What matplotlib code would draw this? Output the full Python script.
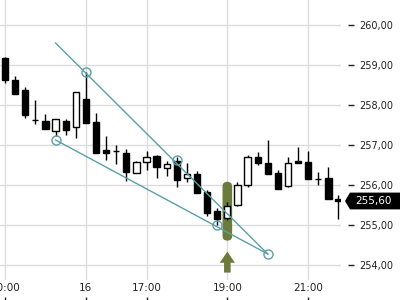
import matplotlib
matplotlib.use("Agg")
import matplotlib.pyplot as plt
from matplotlib.patches import Rectangle, FancyBboxPatch, Polygon
from matplotlib import transforms

# ── candle data (15 min bars) ──────────────────────────────────────────
opens = [259.18, 258.63, 258.38, 257.62, 257.60, 257.36, 257.60, 257.44, 258.15, 257.57,
         256.88, 256.84, 256.79, 256.29, 256.57, 256.73, 256.42, 256.60, 256.17, 256.28,
         255.83, 255.35, 255.17, 255.49, 256.00, 256.69, 256.54, 256.29, 255.98, 256.60,
         256.57, 256.15, 256.17, 255.65]
highs = [259.20, 258.73, 258.44, 258.13, 257.78, 257.65, 257.65, 258.32, 258.83, 257.79,
         257.23, 257.00, 256.89, 256.60, 256.85, 256.75, 256.60, 256.70, 256.54, 256.35,
         255.88, 255.42, 255.58, 256.07, 256.75, 256.83, 257.13, 256.38, 256.71, 256.96,
         256.85, 256.33, 256.44, 255.75]
lows = [258.55, 258.27, 257.68, 257.52, 257.39, 257.23, 257.25, 257.17, 257.54, 256.79,
        256.63, 256.53, 256.11, 256.29, 256.38, 256.17, 256.22, 255.96, 256.08, 255.81,
        255.23, 255.00, 255.13, 255.47, 255.94, 256.50, 256.27, 255.90, 255.96, 256.56,
        256.14, 256.00, 255.64, 255.14]
closes = [258.63, 258.28, 257.75, 257.62, 257.39, 257.65, 257.38, 258.32, 257.54, 256.81,
          256.79, 256.84, 256.33, 256.58, 256.71, 256.44, 256.52, 256.13, 256.28, 255.81,
          255.29, 255.14, 255.48, 256.01, 256.69, 256.54, 256.27, 255.90, 256.54, 256.56,
          256.14, 256.15, 255.64, 255.60]

tick_pos = [0, 8, 14, 22, 30]
tick_labels = ["20:00", "16", "17:00", "19:00", "21:00"]
y_ticks = [254, 255, 256, 257, 258, 259, 260]

# trend lines (bar index, price)
upper_line = [(5, 259.55), (26, 254.275)]
lower_line = [(5, 257.125), (26, 254.275)]
anchor_pts = [(8, 258.82), (17, 256.62), (5, 257.125), (21, 255.0), (26, 254.275)]

signal_bar = 22

TEAL = "#5c9fa6"
OLIVE = "#6b7b3b"

fig = plt.figure(figsize=(4, 3), dpi=100)
ax = fig.add_axes([0, 0.0667, 0.8525, 0.9333])

# highlight + arrow under the signal bar
hi_top = highs[signal_bar] + 0.5
hi_bot = lows[signal_bar] - 0.52
hw = 0.95
ax.add_patch(FancyBboxPatch((signal_bar - hw / 2, hi_bot), hw, hi_top - hi_bot,
                            boxstyle="round,pad=0,rounding_size=0.46",
                            mutation_aspect=0.255,
                            fc=OLIVE, ec="none", zorder=1))
ax.arrow(signal_bar, hi_bot - 0.8, 0, 0.525, width=0.65, head_width=1.5,
         head_length=0.28, length_includes_head=True, fc=OLIVE, ec="none", zorder=1)

# candles
w = 0.62
for i, (o, h, l, c) in enumerate(zip(opens, highs, lows, closes)):
    ax.plot([i, i], [l, h], color="black", lw=1, zorder=2, solid_capstyle="butt")
    bottom = min(o, c)
    height = max(abs(c - o), 0.001)
    face = "black" if c < o else "white"
    ax.add_patch(Rectangle((i - w / 2, bottom), w, height, fc=face, ec="black",
                           lw=1, zorder=3))

# trend lines
for line in (upper_line, lower_line):
    xs, ys = zip(*line)
    ax.plot(xs, ys, color=TEAL, lw=1, zorder=4)
px, py = zip(*anchor_pts)
ax.plot(px, py, "o", ms=6.5, mfc="none", mec=TEAL, mew=1, zorder=5)

ax.set_xlim(-0.5, 33.25)
ax.set_ylim(253.625, 260.625)

ax.set_xticks(tick_pos)
ax.set_xticklabels(tick_labels)
ax.set_yticks(y_ticks)
ax.set_yticklabels([f"{v:.2f}".replace(".", ",") for v in y_ticks])
ax.yaxis.tick_right()
ax.grid(True, color="#dcdcdc", lw=1)
ax.set_axisbelow(True)

for s in ax.spines.values():
    s.set_visible(False)
ax.spines["right"].set_position(("outward", 5))
ax.spines["bottom"].set_position(("outward", 12))
ax.tick_params(axis="y", length=4, width=1, pad=4, labelsize=7, colors="#222222")
ax.tick_params(axis="x", length=3, width=1, pad=-13, labelsize=7.5, colors="#222222")

# last price tag
last = closes[-1]
tr = transforms.blended_transform_factory(ax.transAxes, ax.transData)
x0, x1, x2 = 1.0117, 1.0264, 1.2
hh = 0.21
ax.add_patch(Polygon([(x0, last), (x1, last + hh), (x2, last + hh), (x2, last - hh),
                      (x1, last - hh)], closed=True, transform=tr, fc="black",
                     ec="none", clip_on=False, zorder=6))
ax.text(1.043, last, f"{last:.2f}".replace(".", ","), transform=tr, color="white",
        fontsize=7.5, va="center", ha="left", zorder=7)

fig.savefig("out.png", dpi=100)
